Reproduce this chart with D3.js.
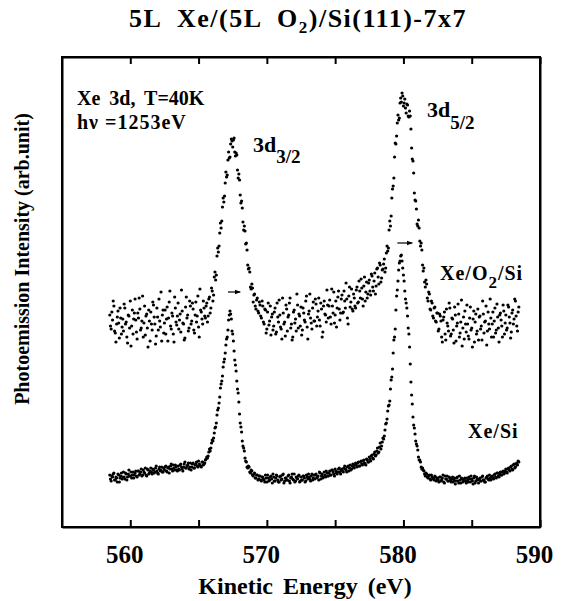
<!DOCTYPE html>
<html>
<head>
<meta charset="utf-8">
<script src="https://cdn.jsdelivr.net/npm/d3@7"></script>
<style>
  body { margin: 0; background: #fff; }
  #wrap { position: relative; width: 566px; height: 601px; }
  svg { position: absolute; left: 0; top: 0; display: block; font-family: "Liberation Serif", "Times New Roman", serif; font-weight: bold; }
  #frame { position: absolute; left: 61px; top: 56px; width: 476px; height: 468px; border: 2px solid #000; z-index: 2; }
</style>
</head>
<body>
<div id="wrap"><svg id="chart" width="566" height="601"></svg><div id="frame"></div></div>
<script>
// Energy grid of the scans (eV): first sweep at 558.5 + 0.1*i, second sweep half a step later
const energyStart = 558.5;
const energyStep = 0.1;

// Xe/O2/Si spectrum (counts, offset upward), one row per eV, first sweep
const xeO2SiCounts = [
  212, 198, 207, 221, 194, 203, 216, 189, 209, 200,
  196, 219, 205, 184, 211, 226, 201, 193, 214, 207,
  188, 209, 218, 199, 231, 204, 192, 213, 180, 206,
  215, 197, 222, 203, 191, 210, 228, 200, 186, 217,
  204, 193, 220, 209, 236, 198, 211, 185, 219, 202,
  224, 207, 195, 216, 203, 189, 230, 212, 199, 221,
  206, 218, 194, 225, 211, 200, 238, 215, 203, 219,
  209, 224, 211, 230, 219, 236, 232, 255, 252, 279,
  281, 304, 306, 329, 331, 355, 352, 375, 370, 388,
  380, 389, 371, 372, 349, 347, 324, 319, 297, 296,
  284, 262, 259, 240, 243, 225, 233, 218, 229, 214,
  222, 209, 221, 203, 217, 198, 224, 206, 192, 213,
  201, 219, 195, 210, 227, 200, 188, 214, 205, 222,
  196, 212, 229, 203, 190, 217, 208, 233, 199, 211,
  220, 197, 214, 205, 231, 188, 216, 209, 198, 225,
  206, 223, 210, 229, 201, 218, 195, 226, 212, 237,
  209, 227, 203, 221, 235, 212, 200, 230, 218, 214,
  232, 215, 226, 244, 209, 231, 220, 238, 216, 229,
  219, 240, 225, 236, 248, 228, 241, 226, 245, 233,
  247, 232, 251, 236, 254, 241, 259, 243, 262, 249,
  258, 268, 259, 281, 279, 306, 311, 338, 349, 384,
  391, 412, 409, 429, 434, 421, 428, 414, 422, 410,
  411, 379, 366, 334, 326, 303, 307, 286, 284, 262,
  259, 240, 243, 226, 233, 217, 224, 209, 220, 205,
  214, 198, 211, 190, 207, 215, 187, 204, 196, 219,
  193, 208, 184, 212, 201, 223, 190, 205, 181, 210,
  216, 195, 203, 188, 220, 199, 208, 185, 213, 196,
  187, 211, 201, 226, 194, 206, 182, 215, 198, 209,
  203, 190, 219, 197, 210, 185, 214, 201, 222, 193,
  212, 199, 220, 204, 195, 217, 208, 226, 201, 215
];

// Xe/O2/Si second sweep (energies shifted by half a step)
const xeO2SiSweep2 = [
  201, 215, 226, 196, 185, 210, 204, 219, 193, 208,
  223, 203, 190, 212, 199, 181, 217, 208, 228, 195,
  214, 229, 197, 206, 190, 221, 211, 199, 217, 186,
  203, 225, 210, 183, 219, 197, 206, 235, 212, 194,
  217, 208, 186, 225, 201, 214, 193, 230, 205, 211,
  198, 213, 237, 204, 187, 220, 209, 196, 226, 203,
  224, 197, 212, 205, 231, 190, 217, 208, 226, 211,
  221, 205, 228, 214, 239, 226, 250, 247, 271, 275,
  294, 299, 320, 325, 344, 350, 367, 369, 383, 386,
  387, 375, 374, 357, 353, 332, 326, 305, 301, 283,
  277, 258, 255, 238, 239, 232, 221, 227, 216, 225,
  211, 226, 205, 218, 194, 215, 202, 221, 210, 197,
  215, 193, 224, 205, 212, 198, 229, 203, 191, 218,
  210, 224, 199, 187, 215, 204, 196, 222, 213, 201,
  192, 219, 207, 226, 200, 213, 233, 204, 219, 206,
  228, 201, 216, 207, 224, 190, 221, 213, 205, 222,
  221, 210, 238, 214, 204, 226, 219, 236, 207, 228,
  214, 236, 219, 228, 203, 240, 225, 218, 233, 221,
  237, 224, 246, 229, 239, 221, 250, 235, 229, 244,
  236, 253, 240, 246, 233, 258, 250, 264, 245, 257,
  263, 255, 274, 276, 297, 301, 329, 341, 370, 383,
  404, 407, 424, 425, 431, 424, 419, 423, 411, 416,
  398, 368, 354, 327, 318, 301, 299, 281, 277, 256,
  245, 247, 229, 235, 218, 226, 211, 219, 206, 214,
  196, 213, 206, 185, 210, 193, 218, 201, 224, 191,
  209, 197, 220, 186, 204, 213, 194, 227, 199, 188,
  203, 222, 191, 209, 197, 180, 216, 205, 193, 218,
  210, 198, 187, 213, 205, 221, 196, 203, 228, 190,
  215, 206, 194, 223, 199, 212, 207, 190, 216, 204,
  197, 222, 210, 189, 214, 203, 228, 211, 196, 220
];

// Xe/Si spectrum (counts), first sweep
const xeSiCounts = [
  52, 46, 50, 54, 47, 49, 53, 45, 51, 48,
  55, 48, 53, 50, 57, 51, 49, 55, 52, 56,
  50, 56, 53, 58, 52, 55, 59, 51, 57, 54,
  59, 53, 57, 55, 61, 54, 58, 56, 60, 55,
  57, 61, 55, 60, 58, 63, 56, 59, 62, 57,
  61, 57, 63, 58, 60, 65, 59, 62, 58, 64,
  60, 64, 59, 63, 61, 66, 62, 60, 65, 63,
  67, 70, 71, 78, 79, 87, 89, 99, 104, 117,
  124, 139, 146, 160, 168, 182, 190, 207, 216, 208,
  193, 176, 162, 146, 134, 113, 100, 86, 79, 69,
  65, 59, 60, 54, 56, 51, 54, 49, 52, 48,
  51, 46, 50, 47, 52, 45, 49, 47, 51, 44,
  50, 46, 52, 47, 45, 51, 48, 53, 46, 49,
  47, 52, 44, 50, 48, 53, 46, 49, 51, 45,
  50, 47, 51, 45, 52, 48, 50, 46, 53, 49,
  48, 53, 50, 47, 54, 51, 49, 55, 50, 54,
  51, 56, 52, 57, 53, 58, 54, 55, 59, 53,
  58, 55, 61, 57, 60, 56, 62, 58, 63, 59,
  64, 60, 65, 61, 66, 62, 67, 63, 68, 65,
  70, 66, 72, 68, 75, 72, 79, 75, 84, 81,
  89, 91, 103, 108, 121, 126, 147, 158, 187, 198,
  231, 246, 264, 271, 266, 252, 236, 224, 211, 193,
  163, 132, 110, 99, 86, 81, 70, 67, 60, 59,
  56, 51, 53, 49, 52, 47, 50, 48, 51, 46,
  49, 45, 50, 47, 52, 44, 48, 51, 46, 49,
  45, 50, 47, 43, 49, 46, 51, 44, 48, 46,
  49, 44, 47, 50, 45, 48, 43, 51, 46, 48,
  44, 49, 46, 51, 47, 45, 50, 48, 52, 47,
  51, 48, 53, 49, 54, 50, 55, 52, 56, 54,
  58, 54, 59, 56, 61, 57, 63, 60, 64, 66
];

// Xe/Si second sweep
const xeSiSweep2 = [
  48, 51, 53, 47, 50, 45, 52, 49, 54, 50,
  50, 54, 47, 53, 51, 55, 52, 49, 54, 51,
  56, 52, 55, 51, 57, 54, 52, 58, 53, 56,
  55, 58, 54, 59, 56, 53, 60, 57, 55, 59,
  60, 56, 59, 54, 61, 58, 62, 57, 60, 56,
  58, 62, 60, 56, 63, 59, 61, 64, 60, 57,
  63, 59, 62, 65, 60, 63, 61, 65, 62, 64,
  68, 69, 75, 76, 84, 86, 94, 100, 112, 119,
  130, 143, 151, 165, 174, 188, 197, 212, 213, 196,
  186, 167, 156, 138, 125, 104, 95, 81, 76, 66,
  60, 61, 55, 57, 52, 53, 49, 52, 47, 51,
  47, 50, 48, 45, 49, 52, 46, 50, 48, 53,
  46, 49, 51, 45, 50, 47, 52, 44, 49, 47,
  51, 46, 49, 53, 47, 45, 50, 48, 52, 46,
  47, 51, 49, 46, 50, 53, 48, 51, 47, 52,
  52, 49, 51, 55, 48, 53, 50, 52, 56, 51,
  54, 52, 57, 55, 51, 56, 53, 58, 55, 57,
  56, 59, 58, 55, 61, 59, 57, 61, 60, 62,
  62, 64, 61, 65, 63, 66, 64, 62, 67, 65,
  68, 71, 69, 73, 71, 76, 74, 80, 78, 85,
  88, 97, 104, 116, 122, 138, 150, 174, 190, 217,
  237, 257, 266, 272, 259, 246, 228, 219, 199, 180,
  145, 123, 102, 93, 83, 77, 67, 65, 58, 57,
  53, 54, 50, 51, 48, 52, 49, 47, 50, 48,
  47, 50, 46, 49, 45, 51, 48, 46, 50, 47,
  48, 45, 49, 46, 50, 44, 47, 49, 45, 48,
  46, 49, 45, 48, 51, 46, 49, 44, 50, 47,
  48, 46, 50, 47, 45, 49, 51, 47, 49, 50,
  49, 52, 50, 54, 51, 53, 52, 55, 53, 56,
  55, 58, 57, 60, 58, 62, 59, 63, 62, 65
];

// x axis ticks
const xTicks = [560, 565, 570, 575, 580, 585, 590];
const xTickLabels = [560, 570, 580, 590];

// shift arrows drawn on the Xe/O2/Si peaks: [from eV, to eV, counts]
const shiftArrows = [
  [567.15, 568.05, 235],
  [579.55, 580.65, 284]
];

const svg = d3.select("#chart");

const x = d3.scaleLinear().domain([555, 590]).range([62, 540]);
const y = d3.scaleLinear().domain([0, 470]).range([527, 57]);
const [y0, y1] = y.range();

const energyOf = (i, sweep) => +(energyStart + (i + sweep * 0.5) * energyStep).toFixed(2);

// title
const title = svg.append("text")
    .attr("x", 298)
    .attr("y", 27)
    .attr("text-anchor", "middle")
    .style("font-size", "26px")
    .style("letter-spacing", "1.5px")
    .style("word-spacing", "8px");
title.append("tspan").text("5L Xe/(5L O");
title.append("tspan").attr("dy", 6).style("font-size", "17px").text("2");
title.append("tspan").attr("dy", -6).text(")/Si(111)-7x7");

// axis titles
svg.append("text")
    .attr("x", 305)
    .attr("y", 594)
    .attr("text-anchor", "middle")
    .style("font-size", "24px")
    .style("word-spacing", "4px")
    .text("Kinetic Energy (eV)");

svg.append("text")
    .attr("transform", "translate(29,259) rotate(-90)")
    .attr("text-anchor", "middle")
    .style("font-size", "20px")
    .text("Photoemission Intensity (arb.unit)");

// data points
function drawSpectrum(counts, sweep) {
    svg.append("g")
        .selectAll("circle")
        .data(counts)
        .enter()
        .append("circle")
        .attr("cx", (d, i) => x(energyOf(i, sweep)))
        .attr("cy", d => y(d))
        .attr("r", 1.6)
        .attr("fill", "#000");
}
drawSpectrum(xeO2SiCounts, 0);
drawSpectrum(xeO2SiSweep2, 1);
drawSpectrum(xeSiCounts, 0);
drawSpectrum(xeSiSweep2, 1);

// small shift arrows
svg.append("defs").append("marker")
    .attr("id", "head")
    .attr("viewBox", "0 0 10 10")
    .attr("refX", 9).attr("refY", 5)
    .attr("markerWidth", 5).attr("markerHeight", 5)
    .attr("orient", "auto")
    .append("path").attr("d", "M0,1 L10,5 L0,9 Z").attr("fill", "#000");

svg.selectAll(".shift")
    .data(shiftArrows)
    .enter()
    .append("line")
    .attr("class", "shift")
    .attr("x1", d => x(d[0]))
    .attr("x2", d => x(d[1]))
    .attr("y1", d => y(d[2]))
    .attr("y2", d => y(d[2]))
    .attr("stroke", "#000")
    .attr("stroke-width", 1.2)
    .attr("marker-end", "url(#head)");

// annotations
function subLabel(px, py, main, sub, rest, subDy, mainSize, subSize) {
    const t = svg.append("text").attr("x", px).attr("y", py).style("font-size", mainSize + "px");
    t.append("tspan").text(main);
    t.append("tspan").attr("dy", subDy).style("font-size", subSize + "px").text(sub);
    if (rest) t.append("tspan").attr("dy", -subDy).text(rest);
    return t;
}

svg.append("text").attr("x", 77).attr("y", 105).style("font-size", "20px")
    .style("word-spacing", "4px").text("Xe 3d, T=40K");
svg.append("text").attr("x", 77).attr("y", 129).style("font-size", "20px")
    .style("letter-spacing", "1px").text("hν =1253eV");

subLabel(253, 152, "3d", "3/2", null, 11, 22, 19);
subLabel(427, 117, "3d", "5/2", null, 12, 22, 19);
subLabel(440, 280, "Xe/O", "2", "/Si", 8, 20, 17).style("letter-spacing", "1px");
svg.append("text").attr("x", 468).attr("y", 438).style("font-size", "20px")
    .style("letter-spacing", "1px").text("Xe/Si");

// axes drawn last so they sit on top: bottom with labels, top without, ticks inward
const bottomAxis = d3.axisBottom(x)
    .tickValues(xTicks)
    .tickSizeInner(-7)
    .tickSizeOuter(0)
    .tickPadding(18)
    .tickFormat(d => xTickLabels.includes(d) ? d : "");

const topAxis = d3.axisTop(x)
    .tickValues(xTicks)
    .tickSizeInner(-7)
    .tickSizeOuter(0)
    .tickFormat("");

const gb = svg.append("g").attr("transform", `translate(0,${y0})`).call(bottomAxis);
const gt = svg.append("g").attr("transform", `translate(0,${y1})`).call(topAxis);
[gb, gt].forEach(g => {
    g.selectAll("path, line").style("stroke", "black").style("stroke-width", "2px");
});
gb.selectAll(".tick text")
    .attr("fill", "#000")
    .attr("dx", -6)
    .style("font-size", "25px")
    .style("font-family", "'Liberation Serif', serif")
    .style("font-weight", "bold");

// left and right frame sides
svg.append("g").attr("transform", `translate(${x.range()[0]},0)`)
    .call(d3.axisLeft(y).tickValues([]).tickSizeOuter(0))
    .selectAll("path").style("stroke", "black").style("stroke-width", "2px");
svg.append("g").attr("transform", `translate(${x.range()[1]},0)`)
    .call(d3.axisRight(y).tickValues([]).tickSizeOuter(0))
    .selectAll("path").style("stroke", "black").style("stroke-width", "2px");
</script>
</body>
</html>
